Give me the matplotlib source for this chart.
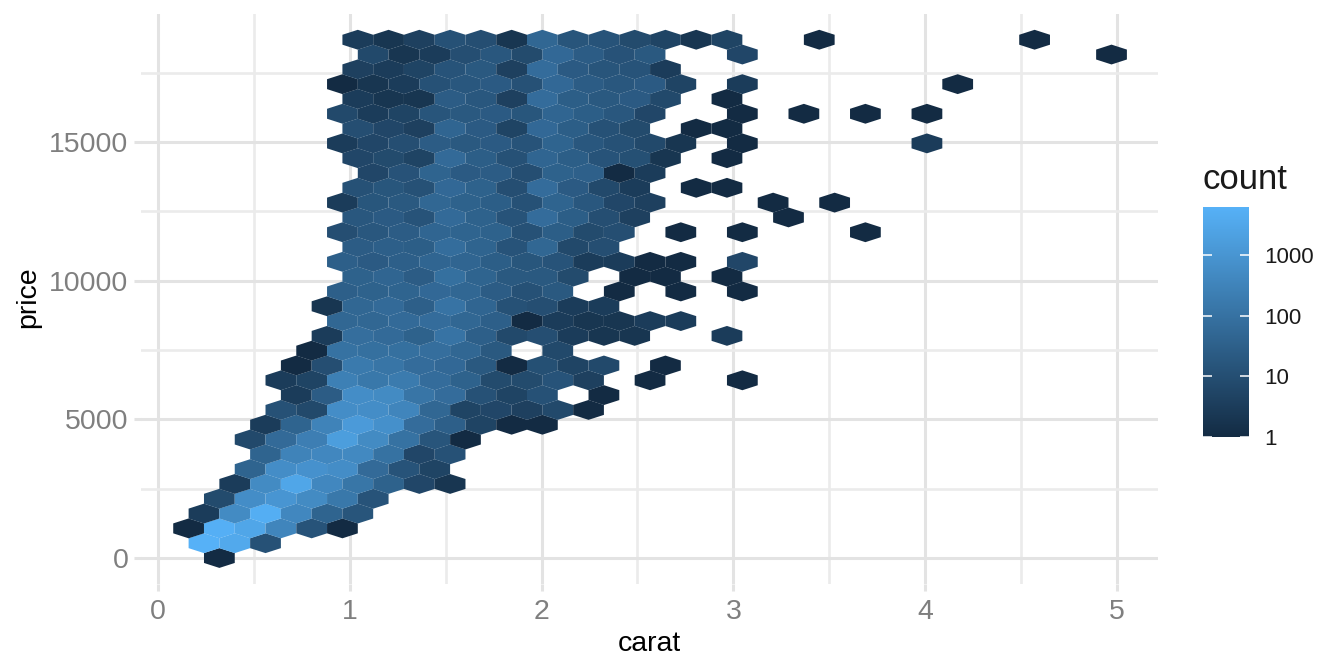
import matplotlib
matplotlib.use('Agg')
import matplotlib.pyplot as plt
import numpy as np
from matplotlib.cm import ScalarMappable
from matplotlib.collections import PolyCollection
from matplotlib.colors import LinearSegmentedColormap, LogNorm

plt.rcParams['font.family'] = ['Liberation Sans', 'DejaVu Sans']

# hexagon bin counts, one list per row (bottom row first)
# first_col is the half-step column of the first cell, 0 means an empty cell
first_col = [0, -1, -2, -1, 0, 1, 2, 3, 2, 3, 4, 5, 4, 5, 6, 7, 8, 7, 8, 9,
             8, 9, 8, 9, 8, 9, 10, 9, 8, 9, 8, 9, 8, 9, 10, 9]
row_counts = [
    [1],
    [6000, 3500, 12],
    [1, 5500, 3000, 350, 14, 1],
    [3, 500, 5000, 400, 40, 15],
    [8, 600, 1000, 500, 150, 14],
    [3, 500, 3000, 400, 130, 35, 6, 2],
    [40, 600, 800, 600, 60, 14, 5],
    [40, 300, 400, 450, 100, 6, 12],
    [7, 60, 220, 1700, 500, 100, 15, 1],
    [3, 40, 300, 1400, 700, 70, 30, 5, 1, 1],
    [12, 7, 600, 600, 350, 50, 5, 6, 4, 7, 1],
    [3, 25, 600, 500, 120, 70, 12, 5, 12, 0, 1],
    [3, 5, 250, 150, 180, 70, 35, 8, 8, 14, 4, 0, 1, 0, 0, 1],
    [1, 10, 170, 120, 70, 55, 20, 1, 11, 5, 7, 0, 1],
    [1, 100, 90, 90, 80, 50, 20, 0, 7],
    [3, 80, 60, 35, 110, 30, 7, 10, 3, 2, 2, 0, 0, 3],
    [50, 50, 60, 70, 50, 30, 1, 3, 2, 2, 3, 3],
    [2, 50, 60, 30, 110, 45, 12, 10, 3, 3],
    [30, 35, 40, 55, 50, 25, 12, 20, 0, 1, 0, 1, 0, 1],
    [35, 45, 25, 90, 40, 20, 20, 8, 0, 1, 1, 0, 1],
    [30, 22, 30, 45, 45, 28, 16, 14, 3, 3, 1, 1, 0, 6],
    [25, 30, 28, 75, 40, 14, 50, 7, 10],
    [10, 18, 25, 45, 40, 35, 12, 28, 8, 10, 0, 1, 0, 1, 0, 0, 0, 1],
    [17, 22, 14, 60, 35, 14, 70, 28, 10, 4, 0, 0, 0, 0, 1],
    [3, 16, 20, 50, 35, 28, 12, 40, 18, 6, 4, 0, 0, 0, 1, 0, 1],
    [12, 16, 12, 55, 35, 10, 70, 22, 7, 3, 0, 1, 1],
    [6, 13, 40, 22, 25, 10, 35, 32, 1, 3],
    [6, 8, 5, 60, 28, 12, 45, 28, 14, 11, 2, 0, 1],
    [3, 6, 10, 25, 20, 22, 14, 40, 18, 12, 7, 2, 0, 1, 0, 0, 0, 0, 0, 3],
    [10, 6, 4, 45, 22, 5, 55, 28, 12, 8, 0, 1, 1],
    [7, 3, 5, 15, 20, 22, 16, 45, 28, 18, 6, 0, 0, 1, 0, 1, 0, 1, 0, 1],
    [3, 2, 2, 25, 18, 4, 70, 28, 20, 22, 7, 0, 1],
    [1, 2, 3, 12, 18, 22, 12, 55, 25, 18, 22, 5, 0, 3, 0, 0, 0, 0, 0, 0, 1],
    [4, 3, 5, 14, 20, 4, 70, 22, 15, 14, 3],
    [7, 2, 3, 10, 18, 8, 55, 25, 13, 20, 0, 0, 6, 0, 0, 0, 0, 0, 0, 0, 0, 0, 0, 0, 1],
    [3, 2, 4, 12, 10, 2, 50, 15, 14, 8, 5, 2, 5, 0, 0, 1, 0, 0, 0, 0, 0, 0, 1],
]
x_ticks = [0, 1, 2, 3, 4, 5]
y_ticks = [0, 5000, 10000, 15000]
legend_ticks = [1, 10, 100, 1000]

# bin grid
carat_start = 0.32
half_width = 0.0802
price_start = 0
row_step = 534
side = 358
count_max = 6200

W, H = 1344, 672
fig = plt.figure(figsize=(W / 100, H / 100), dpi=100)
ax = fig.add_axes([141 / W, 1 - 584 / H, (1158 - 141) / W, (584 - 14) / H])

cmap = LinearSegmentedColormap.from_list('gg', ['#132B43', '#56B1F7'])
norm = LogNorm(1, count_max)

polys = []
counts = []
for r, row in enumerate(row_counts):
    for i, n in enumerate(row):
        if n == 0:
            continue
        cx = carat_start + (first_col[r] + 2 * i) * half_width
        cy = price_start + r * row_step
        polys.append([(cx, cy + side), (cx + half_width, cy + side / 2),
                      (cx + half_width, cy - side / 2), (cx, cy - side),
                      (cx - half_width, cy - side / 2), (cx - half_width, cy + side / 2)])
        counts.append(n)

hexes = PolyCollection(polys, array=np.array(counts), cmap=cmap, norm=norm,
                       edgecolors='none', linewidths=0, zorder=3)
ax.add_collection(hexes)

ax.set_xlim(-0.0886, 5.214)
ax.set_ylim(-938, 19618)
ax.set_xticks(x_ticks)
ax.set_yticks(y_ticks)
ax.set_xticks([0.5, 1.5, 2.5, 3.5, 4.5], minor=True)
ax.set_yticks([2500, 7500, 12500, 17500], minor=True)
ax.grid(True, which='major', color='#E3E3E3', linewidth=2.2)
ax.grid(True, which='minor', color='#EBEBEB', linewidth=1.9)
ax.set_axisbelow(True)
ax.tick_params(which='minor', length=0)
ax.tick_params(which='major', length=5, width=2.2, color='#E3E3E3')
ax.tick_params(axis='x', labelsize=20.5, labelcolor='#7F7F7F', pad=6)
ax.tick_params(axis='y', labelsize=20.5, labelcolor='#7F7F7F', pad=4)
for s in ax.spines.values():
    s.set_visible(False)
ax.set_xlabel('carat', fontsize=20.5, labelpad=4)
ax.set_ylabel('price', fontsize=20.5, labelpad=5.5, y=0.503)

# legend
cax = fig.add_axes([1203 / W, 1 - 437 / H, 46 / W, 230 / H])
cb = fig.colorbar(ScalarMappable(norm=norm, cmap=cmap), cax=cax)
cb.outline.set_visible(False)
cb.set_ticks(legend_ticks, labels=[str(t) for t in legend_ticks])
cb.ax.minorticks_off()
cax.tick_params(length=0, labelsize=16, pad=11, labelcolor='#1A1A1A')
for t in legend_ticks:
    cax.plot([0, 0.2], [t, t], color='white', lw=1.1, solid_capstyle='butt', clip_on=True)
    cax.plot([0.8, 1], [t, t], color='white', lw=1.1, solid_capstyle='butt', clip_on=True)
fig.text(1203 / W, 1 - 180 / H, 'count', fontsize=25, color='#1A1A1A', ha='left', va='center')

fig.savefig('out.png', dpi=100)
